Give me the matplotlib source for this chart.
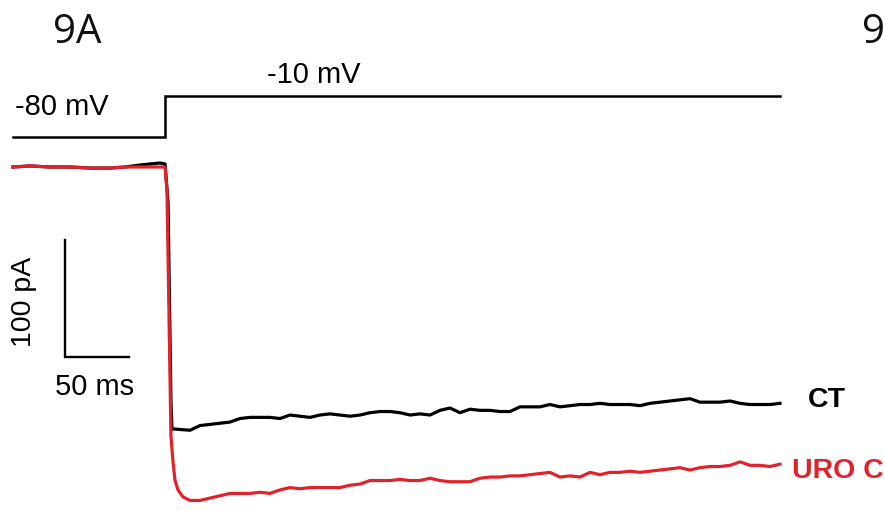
import matplotlib
matplotlib.use("Agg")
import matplotlib.pyplot as plt

# ---- data (time in ms, current in pA, voltage in mV) ----
step_time = 118.8
end_time = 599.2
v_hold = -80
v_test = -10
protocol_t = [0, step_time, step_time, end_time]
protocol_v = [v_hold, v_hold, v_test, v_test]

base_t = [0, 13.3, 28.9, 44.5, 60.2, 75.8, 87.5, 99.2, 107.0, 114.8, 118.8]
ct_base = [0, 0.9, 0, 0, -0.9, -0.9, 0, 1.7, 2.6, 3.4, 2.6]
uro_base = [0, 0.9, 0, 0, -0.9, -0.9, 0, 0, 0, 0, 0]

ct_drop_t = [121.1, 123.4, 124.2, 126.6]
ct_drop_i = [-30, -200, -224, -224]
uro_drop_t = [120.3, 123.4, 125.0, 126.6, 128.9, 132.8]
uro_drop_i = [-20, -230, -252, -268, -276, -282]

tail_t = [130.5, 138.3, 146.1, 153.9, 161.7, 169.5, 177.3, 185.2, 193.0, 200.8,
          208.6, 216.4, 224.2, 232.0, 239.8, 247.7, 255.5, 263.3, 271.1, 278.9,
          286.7, 294.5, 302.3, 310.2, 318.0, 325.8, 333.6, 341.4, 349.2, 357.0,
          364.8, 372.7, 380.5, 388.3, 396.1, 403.9, 411.7, 419.5, 427.3, 435.2,
          443.0, 450.8, 458.6, 466.4, 474.2, 482.0, 489.8, 497.7, 505.5, 513.3,
          521.1, 528.9, 536.7, 544.5, 552.3, 560.2, 568.0, 575.8, 583.6, 591.4,
          599.2]
ct_tail = [-225, -225, -221, -220, -219, -218, -215, -214, -214, -214,
           -215, -212, -213, -214, -212, -211, -212, -213, -212, -210,
           -209, -209, -210, -212, -211, -212, -208, -206, -210, -207,
           -208, -208, -209, -209, -205, -205, -205, -203, -205, -204,
           -203, -203, -202, -203, -203, -203, -204, -202, -201, -200,
           -199, -198, -201, -201, -201, -200, -202, -203, -203, -203,
           -202]
uro_tail = [-284, -285, -285, -283, -281, -279, -279, -279, -278, -279,
            -276, -274, -275, -274, -274, -274, -274, -272, -271, -268,
            -268, -268, -267, -268, -268, -266, -268, -269, -269, -269,
            -266, -265, -265, -264, -264, -263, -262, -261, -265, -264,
            -265, -261, -263, -261, -261, -260, -261, -260, -259, -258,
            -257, -259, -257, -256, -256, -255, -252, -255, -255, -256,
            -254]

ct_t = base_t + ct_drop_t + tail_t[1:]
ct_i = ct_base + ct_drop_i + ct_tail[1:]
uro_t = base_t + uro_drop_t + tail_t[1:]
uro_i = uro_base + uro_drop_i + uro_tail[1:]

labels = {"ct": "CT", "uro": "URO C"}
scale_t = 50   # ms
scale_i = 100  # pA

RED = "#e0232b"

W, H = 885, 511
fig = plt.figure(figsize=(W / 100, H / 100), dpi=100)
fig.patch.set_facecolor("white")

# current axes
ax = fig.add_axes([0, 0, 1, 1])
ax.set_xlim(-13 / 1.28, (W - 13) / 1.28)
ax.set_ylim(-(H - 167) / 1.17, 167 / 1.17)
ax.axis("off")

# voltage axes
axv = fig.add_axes([0, 0, 1, 1])
axv.set_xlim(ax.get_xlim())
k = 40.5 / 70
axv.set_ylim(-80 - (H - 137) / k, -80 + 137 / k)
axv.axis("off")
axv.patch.set_alpha(0)

axv.plot(protocol_t, protocol_v, color="black", lw=1.8, solid_joinstyle="miter")

ax.plot(ct_t, ct_i, color="black", lw=2.3, solid_joinstyle="round")
ax.plot(uro_t, uro_i, color=RED, lw=2.3, solid_joinstyle="round")

# scale bars
sb_t0 = 40.6
sb_i0 = -162.4
ax.plot([sb_t0, sb_t0, sb_t0 + scale_t], [sb_i0 + scale_i, sb_i0, sb_i0],
        color="black", lw=1.7, solid_joinstyle="miter")

def fx(x):
    return x / W

def fy(y):
    return 1 - y / H

tf = dict(family="Liberation Sans", fontsize=21, color="black")
fig.text(fx(15), fy(115), "-80 mV", ha="left", va="baseline", **tf)
fig.text(fx(267), fy(83), "-10 mV", ha="left", va="baseline", **tf)
fig.text(fx(55), fy(395), f"{scale_t} ms", ha="left", va="baseline", **tf)
fig.text(fx(24), fy(302), f"{scale_i} pA", ha="center", va="center", rotation=90,
         family="Liberation Sans", fontsize=20.5, color="black")

fig.text(fx(808), fy(407), labels["ct"], ha="left", va="baseline",
         family="Liberation Sans", fontweight="bold", fontsize=20.5, color="black")
fig.text(fx(792), fy(478), labels["uro"], ha="left", va="baseline",
         family="Liberation Sans", fontweight="bold", fontsize=20.5, color=RED)

fig.text(fx(53), fy(43), "9A", ha="left", va="baseline",
         family="Open Sans", fontsize=29, color="#111111")
fig.text(fx(862), fy(43), "9", ha="left", va="baseline",
         family="Open Sans", fontsize=29, color="#111111")

fig.savefig("out.png", dpi=100, facecolor="white")
